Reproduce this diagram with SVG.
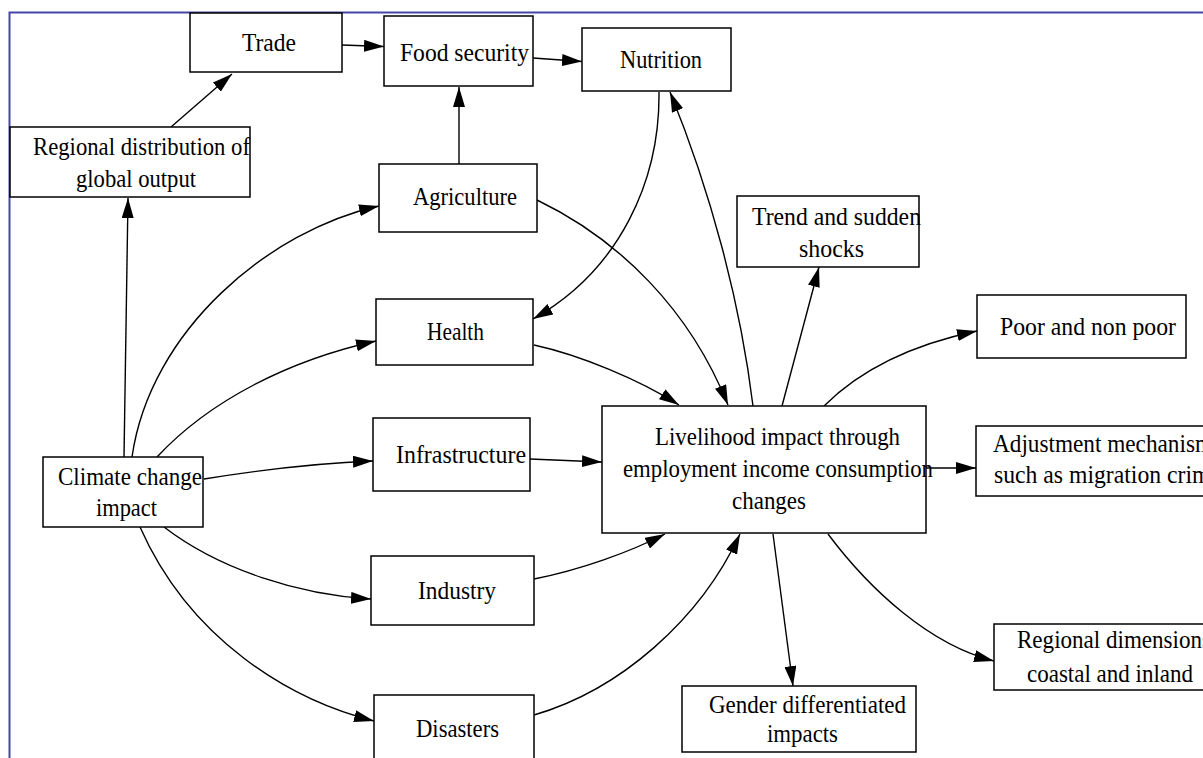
<svg xmlns="http://www.w3.org/2000/svg" width="1203" height="758" viewBox="0 0 1203 758">
<style>
.box{fill:#fff;stroke:#000;stroke-width:1.5}
.t{font-family:"Liberation Serif","Times New Roman",serif;font-size:26px;fill:#000}
.e{fill:none;stroke:#000;stroke-width:1.4;marker-end:url(#ah)}
</style>
<defs>
<marker id="ah" markerUnits="userSpaceOnUse" markerWidth="20" markerHeight="12" refX="20" refY="6" orient="auto" viewBox="0 0 20 12">
<path d="M0,0 L20,6 L0,12 z" fill="#000"/>
</marker>
</defs>
<rect x="0" y="0" width="1203" height="758" fill="#fff"/>
<path d="M9.5,760 L9.5,12.5 L1205,12.5" fill="none" stroke="#4646a8" stroke-width="2"/>
<g id="connectors">
<path class="e" d="M342,45 L384,46.5"/>
<path class="e" d="M533,58 L582,61.5"/>
<path class="e" d="M171,127 L232,74"/>
<path class="e" d="M459,164 L459,87"/>
<path class="e" d="M124,457 L128,198"/>
<path class="e" d="M132,457 C150,330 270,230 379,206"/>
<path class="e" d="M157,457 C210,400 290,360 376,341"/>
<path class="e" d="M204,479 C260,470 320,463 373,461"/>
<path class="e" d="M164,527 C220,570 300,595 371,599"/>
<path class="e" d="M140,527 C190,640 290,700 374,721"/>
<path class="e" d="M537,200 C620,240 690,310 728,405"/>
<path class="e" d="M534,345 C580,355 640,380 679,405"/>
<path class="e" d="M530,459 L602,462"/>
<path class="e" d="M534,579 C580,570 630,552 665,534"/>
<path class="e" d="M534,715 C620,690 700,620 740,534"/>
<path class="e" d="M753,406 C740,300 710,190 670,92"/>
<path class="e" d="M659,92 C660,180 620,270 533,319"/>
<path class="e" d="M782,406 L819,267"/>
<path class="e" d="M824,406 C860,370 910,345 977,331"/>
<path class="e" d="M926,468 L976,468"/>
<path class="e" d="M773,534 L793,686"/>
<path class="e" d="M828,534 C870,590 930,645 994,661"/>
</g>
<g id="trade"><rect class="box" x="190" y="13" width="152" height="59"/><text class="t" x="242" y="51" textLength="54" lengthAdjust="spacingAndGlyphs">Trade</text></g>
<g id="food-security"><rect class="box" x="384" y="16" width="149" height="70"/><text class="t" x="400" y="61" textLength="129" lengthAdjust="spacingAndGlyphs">Food security</text></g>
<g id="nutrition"><rect class="box" x="582" y="28" width="149" height="63"/><text class="t" x="620" y="68" textLength="82" lengthAdjust="spacingAndGlyphs">Nutrition</text></g>
<g id="regional-distribution"><rect class="box" x="10" y="127" width="240" height="70"/><text class="t" x="33" y="155" textLength="217" lengthAdjust="spacingAndGlyphs">Regional distribution of</text><text class="t" x="76" y="187" textLength="120" lengthAdjust="spacingAndGlyphs">global output</text></g>
<g id="agriculture"><rect class="box" x="379" y="164" width="158" height="68"/><text class="t" x="413" y="205" textLength="104" lengthAdjust="spacingAndGlyphs">Agriculture</text></g>
<g id="trend"><rect class="box" x="737" y="196" width="182" height="71"/><text class="t" x="752" y="225" textLength="169" lengthAdjust="spacingAndGlyphs">Trend and sudden</text><text class="t" x="799" y="257" textLength="65" lengthAdjust="spacingAndGlyphs">shocks</text></g>
<g id="poor"><rect class="box" x="977" y="295" width="209" height="63"/><text class="t" x="1000" y="335" textLength="176" lengthAdjust="spacingAndGlyphs">Poor and non poor</text></g>
<g id="health"><rect class="box" x="376" y="299" width="157" height="66"/><text class="t" x="427" y="340" textLength="57" lengthAdjust="spacingAndGlyphs">Health</text></g>
<g id="infrastructure"><rect class="box" x="373" y="418" width="157" height="73"/><text class="t" x="396" y="463" textLength="130" lengthAdjust="spacingAndGlyphs">Infrastructure</text></g>
<g id="livelihood"><rect class="box" x="602" y="406" width="324" height="127"/><text class="t" x="655" y="445" textLength="245" lengthAdjust="spacingAndGlyphs">Livelihood impact through</text><text class="t" x="623" y="477" textLength="310" lengthAdjust="spacingAndGlyphs">employment income consumption</text><text class="t" x="732" y="509" textLength="74" lengthAdjust="spacingAndGlyphs">changes</text></g>
<g id="adjustment"><rect class="box" x="976" y="426" width="240" height="70"/><text class="t" x="993" y="452" textLength="220" lengthAdjust="spacingAndGlyphs">Adjustment mechanism</text><text class="t" x="994" y="483" textLength="227" lengthAdjust="spacingAndGlyphs">such as migration crime</text></g>
<g id="climate"><rect class="box" x="43" y="457" width="160" height="70"/><text class="t" x="58" y="485" textLength="144" lengthAdjust="spacingAndGlyphs">Climate change</text><text class="t" x="96" y="516" textLength="61" lengthAdjust="spacingAndGlyphs">impact</text></g>
<g id="industry"><rect class="box" x="371" y="556" width="163" height="69"/><text class="t" x="418" y="599" textLength="78" lengthAdjust="spacingAndGlyphs">Industry</text></g>
<g id="regional-dimensions"><rect class="box" x="994" y="624" width="220" height="66"/><text class="t" x="1017" y="648" textLength="194" lengthAdjust="spacingAndGlyphs">Regional dimensions</text><text class="t" x="1027" y="682" textLength="166" lengthAdjust="spacingAndGlyphs">coastal and inland</text></g>
<g id="disasters"><rect class="box" x="374" y="695" width="160" height="70"/><text class="t" x="416" y="737" textLength="83" lengthAdjust="spacingAndGlyphs">Disasters</text></g>
<g id="gender"><rect class="box" x="682" y="686" width="234" height="66"/><text class="t" x="709" y="713" textLength="197" lengthAdjust="spacingAndGlyphs">Gender differentiated</text><text class="t" x="767" y="742" textLength="71" lengthAdjust="spacingAndGlyphs">impacts</text></g>
</svg>
